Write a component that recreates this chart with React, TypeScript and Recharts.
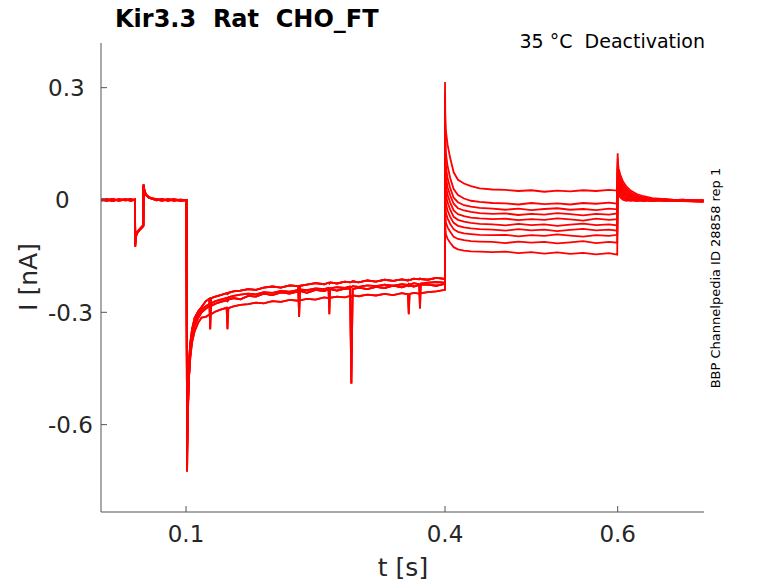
import { LineChart, Line, XAxis, YAxis } from "recharts";

// sweep times before the 0.4 s step (shared by the four pre-step variants)
const tPre = [
  0.002, 0.008, 0.015, 0.022, 0.03, 0.036, 0.0408,
  0.0412, 0.0418, 0.043, 0.045, 0.047, 0.049, 0.0505,
  0.0508, 0.052, 0.054, 0.057, 0.061, 0.066, 0.072, 0.079, 0.086, 0.093,
  0.1005, 0.1012, 0.1018, 0.1025, 0.1035, 0.105, 0.107, 0.11, 0.114, 0.118,
  0.123, 0.127, 0.128, 0.129, 0.134, 0.14, 0.147, 0.148, 0.149,
  0.155, 0.163, 0.172, 0.181, 0.19, 0.2, 0.21, 0.22, 0.23, 0.231, 0.232,
  0.24, 0.25, 0.26, 0.265, 0.266, 0.267, 0.275, 0.284, 0.29, 0.2915, 0.293,
  0.3, 0.31, 0.32, 0.33, 0.34, 0.35, 0.357, 0.358,
  0.359, 0.364, 0.37, 0.371, 0.372, 0.38, 0.39, 0.4,
];

const preA = [
  0.001, -0.002, 0.002, -0.001, 0.002, -0.002, 0.001,
  -0.125, -0.1, -0.09, -0.084, -0.078, -0.074, -0.07,
  0.042, 0.022, 0.013, 0.008, 0.004, 0.002, -0.001, 0.002, -0.002, 0.001,
  0, -0.725, -0.62, -0.54, -0.47, -0.41, -0.37, -0.335, -0.315, -0.3,
  -0.29, -0.284, -0.286, -0.283, -0.277, -0.272, -0.268, -0.27, -0.266,
  -0.262, -0.265, -0.256, -0.258, -0.25, -0.254, -0.247, -0.25, -0.244, -0.246, -0.243,
  -0.248, -0.24, -0.243, -0.239, -0.241, -0.238, -0.242, -0.237, -0.236, -0.49, -0.238,
  -0.234, -0.238, -0.232, -0.235, -0.229, -0.233, -0.228, -0.23,
  -0.229, -0.231, -0.227, -0.229, -0.226, -0.226, -0.229, -0.224,
];

const preB = [
  -0.001, 0.002, -0.002, 0.001, -0.001, 0.002, -0.001,
  -0.108, -0.094, -0.087, -0.081, -0.076, -0.071, -0.067,
  0.036, 0.02, 0.012, 0.006, 0.003, -0.001, 0.002, -0.001, 0.001, -0.002,
  0, -0.68, -0.57, -0.49, -0.43, -0.38, -0.345, -0.315, -0.298, -0.286,
  -0.27, -0.264, -0.345, -0.262, -0.258, -0.254, -0.249, -0.251, -0.248,
  -0.244, -0.242, -0.238, -0.24, -0.234, -0.231, -0.234, -0.228, -0.23, -0.312, -0.229,
  -0.226, -0.222, -0.225, -0.221, -0.223, -0.22, -0.223, -0.218, -0.22, -0.219, -0.217,
  -0.22, -0.215, -0.218, -0.213, -0.216, -0.212, -0.215, -0.213,
  -0.214, -0.21, -0.212, -0.21, -0.211, -0.213, -0.208, -0.211,
];

const preC = [
  0.002, 0, -0.002, 0.002, 0, -0.001, 0.002,
  -0.112, -0.097, -0.089, -0.082, -0.077, -0.073, -0.069,
  0.038, 0.024, 0.014, 0.007, 0.003, 0.001, -0.002, 0.001, 0.002, -0.001,
  0, -0.66, -0.6, -0.53, -0.47, -0.42, -0.38, -0.35, -0.328, -0.314,
  -0.312, -0.306, -0.308, -0.305, -0.298, -0.293, -0.288, -0.345, -0.289,
  -0.284, -0.28, -0.278, -0.274, -0.276, -0.27, -0.272, -0.267, -0.269, -0.266, -0.268,
  -0.264, -0.266, -0.26, -0.262, -0.259, -0.261, -0.258, -0.26, -0.256, -0.258, -0.255,
  -0.257, -0.253, -0.255, -0.251, -0.254, -0.249, -0.252, -0.305,
  -0.251, -0.248, -0.25, -0.247, -0.249, -0.246, -0.244, -0.24,
];

const preD = [
  -0.002, 0.001, 0.002, -0.002, 0.001, 0.002, -0.002,
  -0.118, -0.098, -0.088, -0.083, -0.077, -0.072, -0.068,
  0.04, 0.021, 0.012, 0.007, 0.004, 0.001, 0.002, -0.002, 0.001, 0,
  0, -0.6, -0.56, -0.5, -0.44, -0.39, -0.355, -0.325, -0.305, -0.292,
  -0.283, -0.278, -0.28, -0.276, -0.27, -0.266, -0.262, -0.264, -0.26,
  -0.256, -0.253, -0.25, -0.252, -0.246, -0.248, -0.243, -0.245, -0.24, -0.242, -0.239,
  -0.241, -0.236, -0.238, -0.235, -0.305, -0.236, -0.233, -0.235, -0.231, -0.233, -0.23,
  -0.232, -0.228, -0.23, -0.226, -0.229, -0.225, -0.227, -0.224,
  -0.226, -0.222, -0.225, -0.29, -0.223, -0.221, -0.219, -0.221,
];

// sweep times from the 0.4 s step to the end
const tPost = [
  0.4, 0.4003, 0.401, 0.403, 0.406, 0.41, 0.415, 0.422, 0.43, 0.44, 0.455,
  0.47, 0.485, 0.5, 0.515, 0.53, 0.545, 0.56, 0.575, 0.59, 0.5995,
  0.6, 0.6004, 0.601, 0.603, 0.606, 0.61, 0.615, 0.622, 0.63, 0.64, 0.655, 0.675, 0.6995,
];

const post1 = [
  0.315, 0.228, 0.185, 0.147, 0.112, 0.074, 0.054, 0.044, 0.037, 0.031, 0.028,
  0.027, 0.024, 0.026, 0.022, 0.025, 0.023, 0.026, 0.024, 0.027, 0.025,
  0.125, 0.1, 0.085, 0.068, 0.05, 0.036, 0.025, 0.016, 0.01, 0.005, 0.002, -0.002, -0.004,
];
const post2 = [
  0.29, 0.17, 0.125, 0.09, 0.059, 0.029, 0.013, 0.004, -0.002, -0.005, -0.008,
  -0.009, -0.012, -0.008, -0.011, -0.009, -0.012, -0.008, -0.01, -0.007, -0.01,
  0.11, 0.088, 0.074, 0.058, 0.042, 0.03, 0.02, 0.012, 0.007, 0.003, 0.001, -0.003, -0.002,
];
const post3 = [
  0.26, 0.132, 0.089, 0.058, 0.032, 0.006, -0.006, -0.014, -0.018, -0.021, -0.023,
  -0.026, -0.023, -0.027, -0.024, -0.022, -0.026, -0.024, -0.027, -0.023, -0.025,
  0.1, 0.078, 0.064, 0.05, 0.036, 0.025, 0.016, 0.009, 0.004, 0.001, -0.002, 0.001, -0.003,
];
const post4 = [
  0.24, 0.101, 0.062, 0.034, 0.012, -0.01, -0.022, -0.028, -0.032, -0.035, -0.037,
  -0.036, -0.04, -0.037, -0.039, -0.035, -0.038, -0.041, -0.037, -0.039, -0.036,
  0.09, 0.07, 0.056, 0.042, 0.03, 0.02, 0.012, 0.006, 0.002, -0.001, 0.002, -0.002, -0.001,
];
const post5 = [
  0.22, 0.073, 0.038, 0.013, -0.007, -0.028, -0.038, -0.043, -0.047, -0.049, -0.051,
  -0.05, -0.054, -0.051, -0.053, -0.049, -0.052, -0.055, -0.05, -0.053, -0.051,
  0.085, 0.064, 0.05, 0.037, 0.025, 0.016, 0.009, 0.004, 0.001, -0.002, 0, -0.003, -0.001,
];
const post6 = [
  0.2, 0.046, 0.014, -0.007, -0.026, -0.045, -0.053, -0.058, -0.061, -0.064, -0.065,
  -0.068, -0.064, -0.067, -0.065, -0.069, -0.066, -0.063, -0.067, -0.065, -0.068,
  0.075, 0.056, 0.043, 0.031, 0.02, 0.012, 0.006, 0.002, -0.001, 0.001, -0.002, 0, -0.002,
];
const post7 = [
  0.18, 0.019, -0.01, -0.028, -0.045, -0.061, -0.069, -0.073, -0.076, -0.078, -0.079,
  -0.082, -0.078, -0.081, -0.079, -0.083, -0.08, -0.077, -0.081, -0.079, -0.082,
  0.065, 0.048, 0.036, 0.025, 0.015, 0.008, 0.003, 0, -0.002, 0.001, -0.001, -0.003, 0,
];
const post8 = [
  0.16, -0.008, -0.034, -0.049, -0.064, -0.078, -0.085, -0.089, -0.091, -0.093, -0.094,
  -0.093, -0.097, -0.094, -0.096, -0.092, -0.095, -0.098, -0.094, -0.096, -0.093,
  0.055, 0.04, 0.029, 0.019, 0.01, 0.004, 0.001, -0.002, 0, -0.003, 0.001, -0.002, -0.004,
];
const post9 = [
  0.14, -0.037, -0.06, -0.073, -0.085, -0.098, -0.104, -0.107, -0.11, -0.111, -0.112,
  -0.115, -0.111, -0.114, -0.112, -0.116, -0.113, -0.11, -0.115, -0.112, -0.114,
  0.045, 0.032, 0.022, 0.013, 0.005, 0.001, -0.002, 0.001, -0.003, 0, -0.002, 0.001, -0.003,
];
const post10 = [
  0.12, -0.07, -0.091, -0.104, -0.114, -0.126, -0.132, -0.135, -0.137, -0.138, -0.139,
  -0.138, -0.142, -0.139, -0.143, -0.14, -0.144, -0.141, -0.145, -0.142, -0.146,
  0.035, 0.024, 0.015, 0.007, 0.001, -0.002, 0, -0.003, 0.001, -0.002, 0, -0.003, -0.005,
];

const xTicks = [0.1, 0.4, 0.6];
const yTicks = [-0.6, -0.3, 0, 0.3];

const W = 778;
const H = 583;
const AXIS = "#555555";
const TEXT = "#262626";
const RED = "#ff0000";
const FONT = "'DejaVu Sans', Verdana, sans-serif";

const preSets = [preA, preB, preC, preD];
const postSets = [post1, post2, post3, post4, post5, post6, post7, post8, post9, post10];

const sweeps = postSets.map((post, k) => [
  ...tPre.map((t, j) => ({ t, i: preSets[k % preSets.length][j] })),
  ...tPost.map((t, j) => ({ t, i: post[j] })),
]);

function XTick({ x, y, payload }: any) {
  return (
    <g>
      <line x1={x} x2={x} y1={y} y2={y - 6} stroke={AXIS} />
      <text x={x} y={y + 30} textAnchor="middle" fontSize={23} fill={TEXT} fontFamily={FONT}>
        {payload.value}
      </text>
    </g>
  );
}

function YTick({ x, y, payload }: any) {
  const v = payload.value;
  return (
    <g>
      <line x1={x} x2={x + 6} y1={y} y2={y} stroke={AXIS} />
      <text x={v === 0 ? 55 : 48} y={y + 8.5} textAnchor="start" fontSize={23} fill={TEXT} fontFamily={FONT}>
        {v}
      </text>
    </g>
  );
}

export default function App() {
  return (
    <div style={{ position: "absolute", left: 0, top: 0, width: W, height: H, background: "#fff" }}>
      <LineChart width={W} height={H} margin={{ top: 43, right: 74, bottom: 31, left: 41 }}>
        <XAxis
          type="number"
          dataKey="t"
          domain={[0.0015, 0.7]}
          allowDataOverflow
          ticks={xTicks}
          tick={<XTick />}
          tickLine={false}
          tickSize={0}
          tickMargin={0}
          height={40}
          axisLine={{ stroke: AXIS }}
        />
        <YAxis
          type="number"
          domain={[-0.8333, 0.4193]}
          allowDataOverflow
          ticks={yTicks}
          tick={<YTick />}
          tickLine={false}
          tickSize={0}
          tickMargin={0}
          width={60}
          axisLine={{ stroke: AXIS }}
        />
        {sweeps.map((s, k) => (
          <Line
            key={k}
            data={s}
            dataKey="i"
            type="linear"
            stroke={RED}
            strokeWidth={1.8}
            dot={false}
            activeDot={false}
            isAnimationActive={false}
          />
        ))}
      </LineChart>
      <svg
        width={W}
        height={H}
        style={{ position: "absolute", left: 0, top: 0, pointerEvents: "none" }}
        fontFamily={FONT}
      >
        <text x={115} y={27} fontSize={24} fontWeight="bold" fill="#000" xmlSpace="preserve" style={{ whiteSpace: "pre" }}>
          Kir3.3  Rat  CHO_FT
        </text>
        <text x={705} y={48} fontSize={19} fill="#000" textAnchor="end" xmlSpace="preserve" style={{ whiteSpace: "pre" }}>
          35 °C  Deactivation
        </text>
        <text x={403} y={576} fontSize={25} fill={TEXT} textAnchor="middle">
          t [s]
        </text>
        <text x={37} y={277} fontSize={25} fill={TEXT} textAnchor="middle" transform="rotate(-90 37 277)">
          I [nA]
        </text>
        <text x={720} y={278} fontSize={13} fill="#000" textAnchor="middle" transform="rotate(-90 720 278)">
          BBP Channelpedia ID 28858 rep 1
        </text>
      </svg>
    </div>
  );
}
